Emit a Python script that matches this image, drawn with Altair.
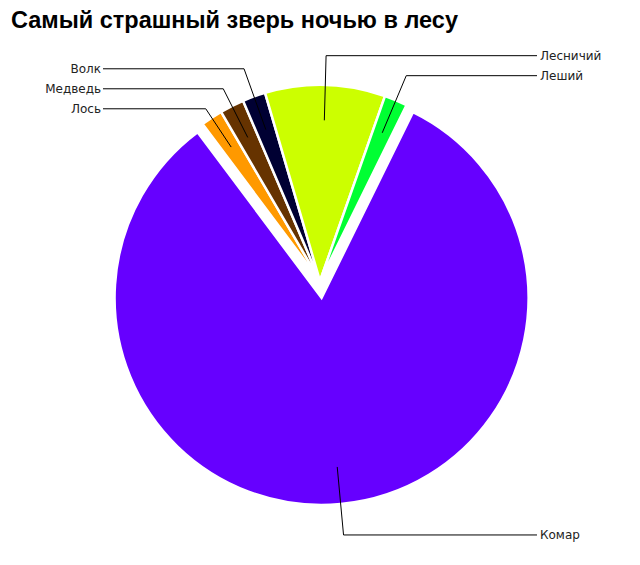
import altair as alt
import pandas as pd

# ---- data ----
title_text = "Самый страшный зверь ночью в лесу"
categories = ["Лось", "Медведь", "Волк", "Лесничий", "Леший", "Комар"]
values = [1.8, 2.0, 1.9, 9.9, 1.9, 82.5]
colors = ["#FF9900", "#663300", "#000033", "#CCFF00", "#00FF33", "#6600FF"]

df = pd.DataFrame({"category": categories, "value": values,
                   "order": list(range(len(categories)))})

# ---- layout constants (chart pixel space) ----
W, H = 624, 549
CX, CY = 312, 273          # pie centre
R_SMALL, R_BIG = 196, 207  # radii
EXPLODE = 17               # pull-out of the largest slice
START = 5.641              # start angle (radians, clockwise from 12 o'clock)
INNER_F, ELBOW_F = 0.82, 1.15
GAP = 20                   # minimal vertical spacing of labels
LINE_END_R, LABEL_X_R = 529, 532
LINE_END_L, LABEL_X_L = 95, 93

base = (
    alt.Chart(df)
    .transform_window(cum="sum(value)", sort=[alt.SortField("order")], frame=[None, 0])
    .transform_joinaggregate(total="sum(value)", vmax="max(value)")
    .transform_calculate(
        a0=f"{START} + 2*PI*(datum.cum - datum.value)/datum.total",
        a1=f"{START} + 2*PI*datum.cum/datum.total",
    )
    .transform_calculate(
        mid="(datum.a0 + datum.a1)/2",
        big="datum.value == datum.vmax ? 1 : 0",
    )
    .transform_calculate(
        cx=f"{CX} + datum.big*{EXPLODE}*sin(datum.mid)",
        cy=f"{CY} - datum.big*{EXPLODE}*cos(datum.mid)",
        r=f"datum.big ? {R_BIG} : {R_SMALL}",
    )
)

arcs = base.mark_arc(stroke="white", strokeWidth=2.5).encode(
    theta=alt.Theta("a0:Q", scale=None),
    theta2="a1:Q",
    radius=alt.Radius("r:Q", scale=None),
    x=alt.X("cx:Q", scale=None),
    y=alt.Y("cy:Q", scale=None),
    color=alt.Color("category:N", scale=alt.Scale(domain=categories, range=colors), legend=None),
)

lead = (
    base.transform_calculate(
        ix=f"datum.cx + {INNER_F}*datum.r*sin(datum.mid)",
        iy=f"datum.cy - {INNER_F}*datum.r*cos(datum.mid)",
        side="sin(datum.mid) >= 0 ? 'right' : 'left'",
        ney=f"datum.cy - {ELBOW_F}*datum.r*cos(datum.mid)",
    )
    .transform_window(rk="row_number()", groupby=["side"], sort=[alt.SortField("ney")])
    .transform_calculate(k=f"datum.ney - {GAP}*datum.rk")
    .transform_window(cmax="max(k)", groupby=["side"], sort=[alt.SortField("ney")], frame=[None, 0])
    .transform_calculate(ly=f"datum.cmax + {GAP}*datum.rk")
    .transform_calculate(
        ex="datum.cx + (datum.cy - datum.ly)/cos(datum.mid)*sin(datum.mid)",
        lend=f"datum.side == 'right' ? {LINE_END_R} : {LINE_END_L}",
    )
)

seg1 = lead.mark_rule(color="black", strokeWidth=1).encode(
    x=alt.X("ix:Q", scale=None), y=alt.Y("iy:Q", scale=None),
    x2="ex:Q", y2="ly:Q",
)
seg2 = lead.mark_rule(color="black", strokeWidth=1).encode(
    x=alt.X("ex:Q", scale=None), y=alt.Y("ly:Q", scale=None),
    x2="lend:Q", y2="ly:Q",
)

txt_kw = dict(font="DejaVu Sans", fontSize=12, color="#222222", baseline="middle")
text_r = lead.transform_filter("datum.side == 'right'").mark_text(align="left", **txt_kw).encode(
    x=alt.value(LABEL_X_R), y=alt.Y("ly:Q", scale=None), text="category:N"
)
text_l = lead.transform_filter("datum.side == 'left'").mark_text(align="right", **txt_kw).encode(
    x=alt.value(LABEL_X_L), y=alt.Y("ly:Q", scale=None), text="category:N"
)

title = alt.Chart(pd.DataFrame({"t": [title_text]})).mark_text(
    align="left", baseline="alphabetic", font="Liberation Sans", fontSize=23.5,
    fontWeight="bold", color="#000000"
).encode(x=alt.value(3), y=alt.value(20), text="t:N")

chart = (
    alt.layer(arcs, seg1, seg2, text_r, text_l, title)
    .properties(width=W, height=H, autosize="none", padding=0, background="white")
    .configure_view(strokeWidth=0)
)

chart.save("out.html", embed_options={"renderer": "svg", "actions": False})
